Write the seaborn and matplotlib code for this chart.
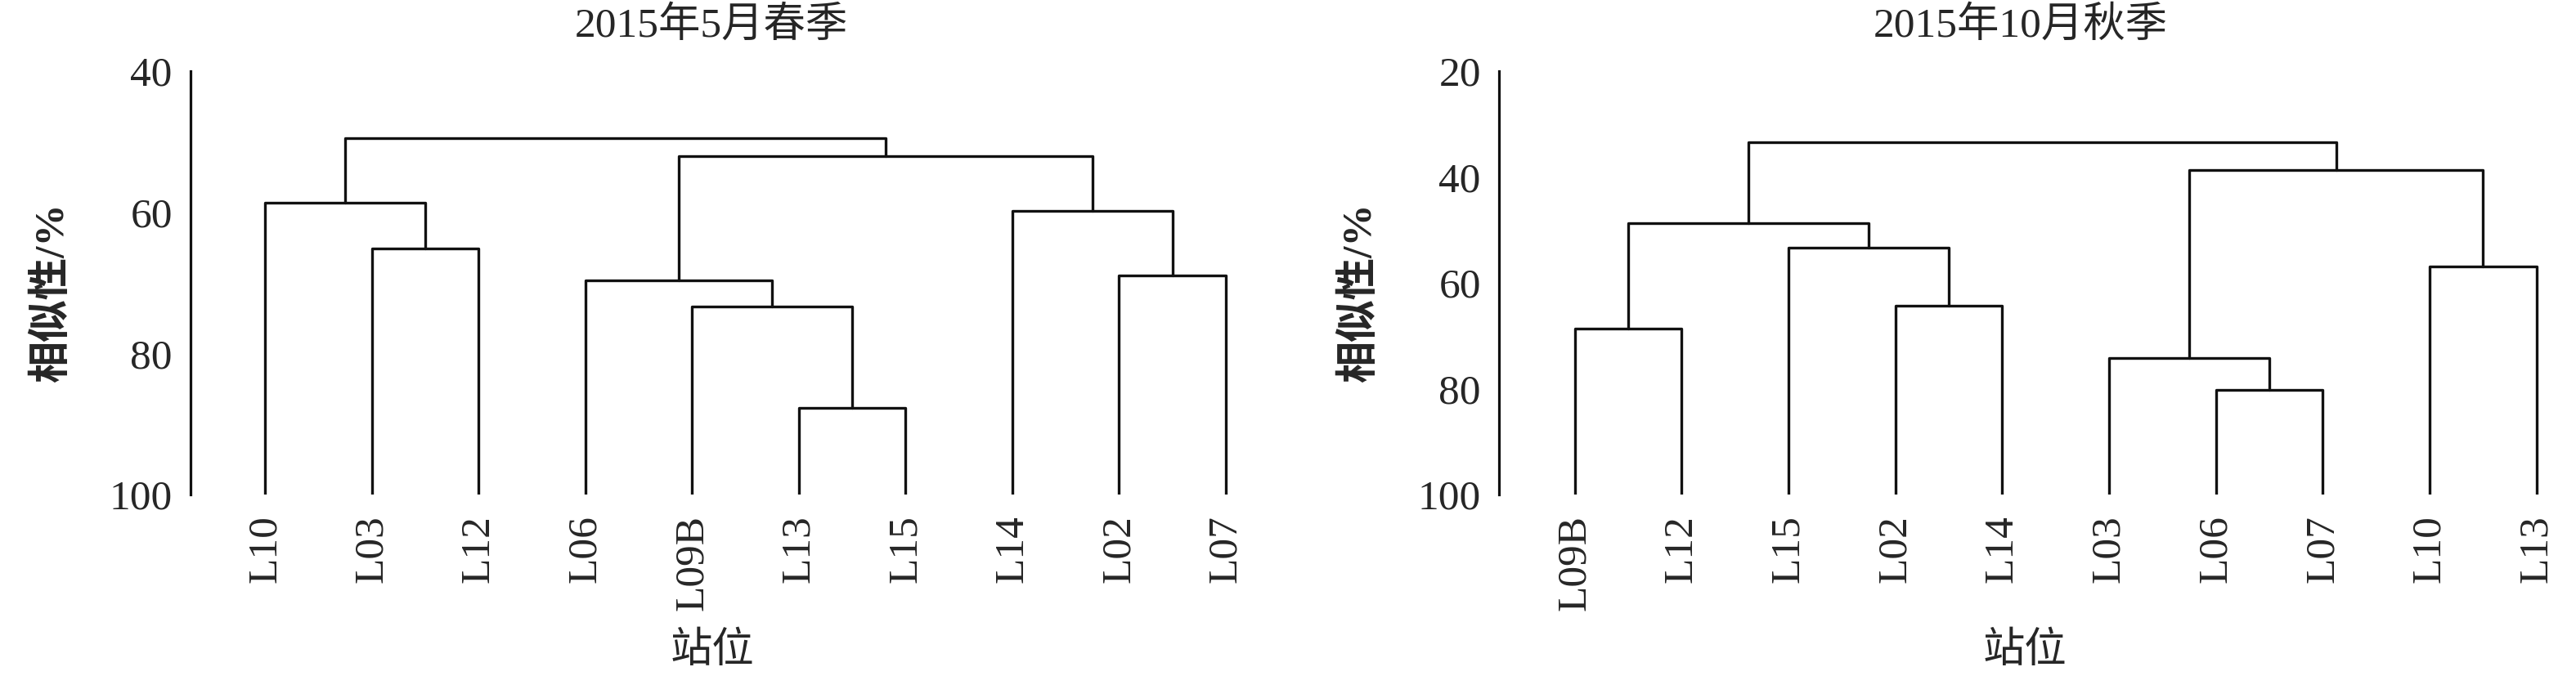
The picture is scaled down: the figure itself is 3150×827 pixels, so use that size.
import matplotlib
matplotlib.use("Agg")
import matplotlib.pyplot as plt
import seaborn as sns
import pandas as pd

# ---------------- data ----------------
spring_title = "2015年5月春季"
spring_leaves = ["L10", "L03", "L12", "L06", "L09B", "L13", "L15", "L14", "L02", "L07"]
# merges: (child_a, child_b, similarity %); clusters referenced as "c<index>"
spring_merges = [
    ("L13", "L15", 87.7),   # c0
    ("L03", "L12", 65.1),   # c1
    ("L02", "L07", 69.0),   # c2
    ("L09B", "c0", 73.4),   # c3
    ("L06", "c3", 69.7),    # c4
    ("L10", "c1", 58.7),    # c5
    ("L14", "c2", 59.8),    # c6
    ("c4", "c6", 52.0),     # c7
    ("c5", "c7", 49.5),     # c8
]
spring_yticks = [40, 60, 80, 100]

autumn_title = "2015年10月秋季"
autumn_leaves = ["L09B", "L12", "L15", "L02", "L14", "L03", "L06", "L07", "L10", "L13"]
autumn_merges = [
    ("L06", "L07", 80.2),   # c0
    ("L03", "c0", 74.2),    # c1
    ("L09B", "L12", 68.7),  # c2
    ("L02", "L14", 64.3),   # c3
    ("L10", "L13", 56.9),   # c4
    ("L15", "c3", 53.4),    # c5
    ("c2", "c5", 48.8),     # c6
    ("c1", "c4", 38.7),     # c7
    ("c6", "c7", 33.4),     # c8
]
autumn_yticks = [20, 40, 60, 80, 100]

y_label = "相似性/%"
x_label = "站位"
leaf_level = 100


def dendro_segments(leaves, merges):
    pos = {name: (i, leaf_level) for i, name in enumerate(leaves)}
    rows = []
    seg = 0
    for k, (a, b, h) in enumerate(merges):
        xa, ya = pos[a]
        xb, yb = pos[b]
        for x, y in zip([xa, xa, xb, xb], [ya, h, h, yb]):
            rows.append({"x": x, "y": y, "seg": seg})
        seg += 1
        pos[f"c{k}"] = ((xa + xb) / 2, h)
    return pd.DataFrame(rows)


sns.set_style("white")
serif_cjk = ["Liberation Serif", "Noto Sans CJK SC"]
plt.rcParams["font.family"] = serif_cjk

W, H = 3150, 827
fig = plt.figure(figsize=(W / 100, H / 100), dpi=100)

panels = [
    dict(title=spring_title, leaves=spring_leaves, merges=spring_merges, yticks=spring_yticks,
         ax_px=(233, 1564), xlim=(-0.70, 9.5), title_x=870, ylab_x=64, xlab_x=871),
    dict(title=autumn_title, leaves=autumn_leaves, merges=autumn_merges, yticks=autumn_yticks,
         ax_px=(1833, 3150), xlim=(-0.71, 9.37), title_x=2471, ylab_x=1663, xlab_x=2476),
]

top_px, bot_px = 87, 605
for p in panels:
    l, r = p["ax_px"]
    ax = fig.add_axes([l / W, 1 - bot_px / H, (r - l) / W, (bot_px - top_px) / H])
    df = dendro_segments(p["leaves"], p["merges"])
    sns.lineplot(data=df, x="x", y="y", units="seg", estimator=None, sort=False,
                 color="#111111", lw=2.4, ax=ax, legend=False)
    ax.set_xlim(*p["xlim"])
    ax.set_ylim(max(p["yticks"]), min(p["yticks"]))
    ax.set_yticks(p["yticks"])
    ax.set_yticklabels([str(v) for v in p["yticks"]], fontsize=37, family="Liberation Serif")
    ax.set_xticks(range(len(p["leaves"])))
    ax.set_xticklabels(p["leaves"], rotation=90, fontsize=37, family="Liberation Serif",
                       va="top", ha="center")
    ax.tick_params(axis="x", length=0, pad=18)
    ax.tick_params(axis="y", direction="inout", length=16, width=2.3, pad=8, color="#111111")
    for s in ("top", "right", "bottom"):
        ax.spines[s].set_visible(False)
    ax.spines["left"].set_linewidth(2.3)
    ax.spines["left"].set_color("#111111")
    ax.set_xlabel("")
    ax.set_ylabel("")
    ax.grid(False)

    fig.text(p["title_x"] / W, 1 - 32 / H, p["title"], ha="center", va="center",
             fontsize=37, family=serif_cjk)
    fig.text(p["ylab_x"] / W, 1 - 358 / H, y_label, ha="center", va="center",
             rotation=90, fontsize=37, family=serif_cjk, fontweight="bold")
    fig.text(p["xlab_x"] / W, 1 - 797 / H, x_label, ha="center", va="center",
             fontsize=37, family=serif_cjk)

fig.savefig("out.png", dpi=100)
